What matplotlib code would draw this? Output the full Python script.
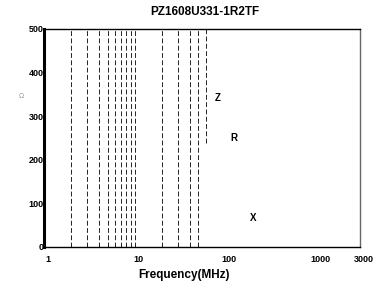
import numpy as np
import matplotlib
matplotlib.use("Agg")
import matplotlib.pyplot as plt
from matplotlib.transforms import ScaledTranslation

plt.rcParams['font.family'] = ['Liberation Sans', 'DejaVu Sans']

title = "PZ1608U331-1R2TF"
# vertical dashed grid lines (MHz)
grid_freqs = [2, 3, 4, 5, 6, 7, 8, 9, 10, 20, 30, 40, 50]
short_line_freq = 60
short_line_range = (238, 500)
# curve labels: name, freq, ohm
curve_labels = ["Z", "R", "X"]
label_freqs = [82, 122, 199]
label_vals = [341, 251, 67]
xticks = [1, 10, 100, 1000, 3000]
xtick_labels = ["1", "10", "100", "1000", "3000"]
yticks = [0, 100, 200, 300, 400, 500]

fig = plt.figure(figsize=(3.77, 2.89), dpi=100)
ax = fig.add_axes([44/377, 1-247/289, (360-44)/377, (247-29)/289])
ax.set_xscale('log')
ax.set_xlim(1, 3000)
ax.set_ylim(0, 500)

for f in grid_freqs:
    ax.plot([f, f], [0, 500], color='#222222', lw=0.7, ls=(0, (5, 2.5)))
ax.plot([short_line_freq]*2, short_line_range, color='#222222', lw=0.7, ls=(0, (5, 2.5)))

for name, f, v in zip(curve_labels, label_freqs, label_vals):
    ax.text(f, v, name, fontsize=7, fontweight='bold', ha='center', va='center')

ax.set_xticks(xticks)
ax.set_xticklabels(xtick_labels)
ax.xaxis.set_minor_locator(matplotlib.ticker.NullLocator())
ax.set_yticks(yticks)
ax.set_yticks(np.arange(0, 501, 20), minor=True)
ax.tick_params(axis='x', length=0, pad=6, labelsize=6.5)
ax.tick_params(axis='y', which='major', length=0, pad=0, labelsize=6.5)
ax.tick_params(axis='y', which='minor', length=1.5, width=0.8, direction='in', color='white')
for lab in ax.get_xticklabels():
    lab.set_fontweight('bold')
    lab.set_transform(lab.get_transform() + ScaledTranslation(3.5/100, 0, fig.dpi_scale_trans))
for lab in ax.get_yticklabels():
    lab.set_fontweight('bold')

ax.spines['left'].set_linewidth(2.2)
ax.spines['bottom'].set_linewidth(1.0)
ax.spines['top'].set_linewidth(1.0)
ax.spines['right'].set_color('#666666')
ax.spines['right'].set_linewidth(1.0)

fig.text(205/377, 1-12/289, title, fontsize=8.5, fontweight='bold', ha='center', va='center')
fig.text(184/377, 1-275/289, "Frequency(MHz)", fontsize=8.5, fontweight='bold', ha='center', va='center')
fig.text(21/377, 1-97/289, "Ω", fontsize=5, color='#999999', ha='center', va='center')

fig.savefig("out.png", dpi=100)
